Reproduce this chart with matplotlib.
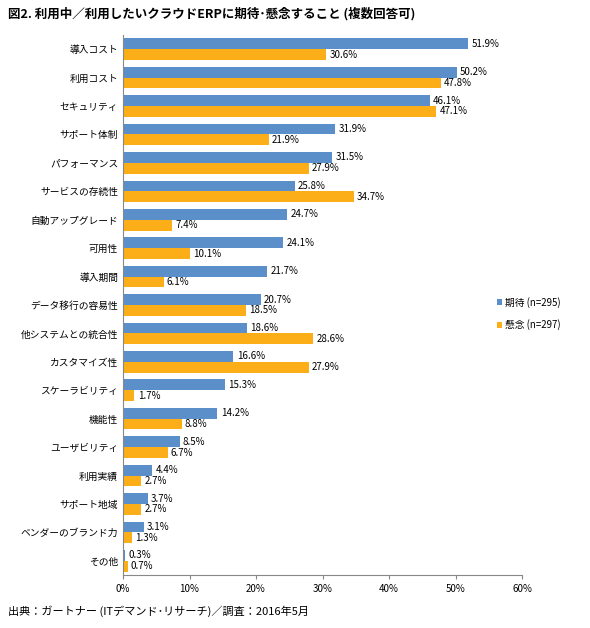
import matplotlib.pyplot as plt
import numpy as np

plt.rcParams['font.family'] = ['Noto Sans CJK JP', 'DejaVu Sans']

categories = ["導入コスト", "利用コスト", "セキュリティ", "サポート体制", "パフォーマンス",
              "サービスの存続性", "自動アップグレード", "可用性", "導入期間", "データ移行の容易性",
              "他システムとの統合性", "カスタマイズ性", "スケーラビリティ", "機能性", "ユーザビリティ",
              "利用実績", "サポート地域", "ベンダーのブランド力", "その他"]
kitai = [51.9, 50.2, 46.1, 31.9, 31.5, 25.8, 24.7, 24.1, 21.7, 20.7,
         18.6, 16.6, 15.3, 14.2, 8.5, 4.4, 3.7, 3.1, 0.3]
kenen = [30.6, 47.8, 47.1, 21.9, 27.9, 34.7, 7.4, 10.1, 6.1, 18.5,
         28.6, 27.9, 1.7, 8.8, 6.7, 2.7, 2.7, 1.3, 0.7]
xticks = [0, 10, 20, 30, 40, 50, 60]

blue = "#5B8FC9"
orange = "#FBAE17"

fig = plt.figure(figsize=(5.9, 6.28), dpi=100)
ax = fig.add_axes([123 / 590, 53 / 628, 399 / 590, 540 / 628])

y = np.arange(len(categories))
h = 0.38
ax.barh(y - h / 2, kitai, height=h, color=blue, label="期待 (n=295)")
ax.barh(y + h / 2, kenen, height=h, color=orange, label="懸念 (n=297)")

for i in range(len(categories)):
    ax.text(kitai[i] + 0.5, y[i] - h / 2, f"{kitai[i]}%", va="center", fontsize=7)
    ax.text(kenen[i] + 0.5, y[i] + h / 2, f"{kenen[i]}%", va="center", fontsize=7)

ax.set_yticks(y)
ax.set_yticklabels(categories, fontsize=7)
ax.set_ylim(len(categories) - 0.5, -0.5)
ax.set_xlim(0, 60)
ax.set_xticks(xticks)
ax.set_xticklabels([f"{t}%" for t in xticks], fontsize=7)
for s in ["top", "right"]:
    ax.spines[s].set_visible(False)
ax.spines["left"].set_color("#888888")
ax.spines["bottom"].set_color("#888888")
ax.tick_params(axis="y", length=0)
ax.tick_params(axis="x", length=3, color="#888888")

fig.legend(loc="upper left", bbox_to_anchor=(488 / 590, 1 - 288 / 628), frameon=False,
           fontsize=7, handlelength=0.5, handleheight=0.5, handletextpad=0.3, labelspacing=1.2)

fig.text(8 / 590, 1 - 14 / 628, "図2. 利用中／利用したいクラウドERPに期待･懸念すること (複数回答可)",
         fontsize=9, fontweight="bold", va="center")
fig.text(8 / 590, 1 - 611 / 628, "出典：ガートナー (ITデマンド･リサーチ)／調査：2016年5月",
         fontsize=8, va="center")

fig.savefig("out.png")
